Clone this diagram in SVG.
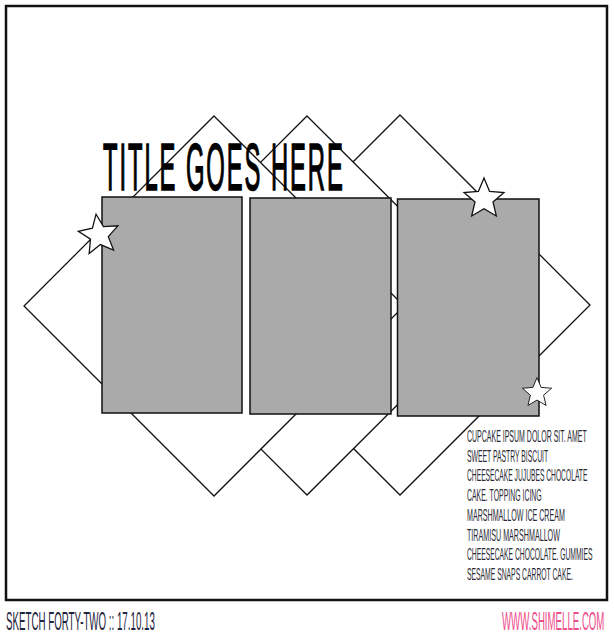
<svg xmlns="http://www.w3.org/2000/svg" width="614" height="637" viewBox="0 0 614 637">
<style>
.dia{fill:#fff;stroke:#111;stroke-width:1.3}
.photo{fill:#aaaaaa;stroke:#111;stroke-width:1.5}
.star{fill:#fff;stroke:#111;stroke-width:1.2}
.title{font-family:"Liberation Sans",Arial,sans-serif;font-size:66px;fill:#000;stroke:#000;stroke-width:1.6;letter-spacing:5.4px}
.body{font-family:"Liberation Sans",Arial,sans-serif;font-size:16.4px;fill:#2a2a35}
.foot{font-family:"Liberation Sans",Arial,sans-serif;font-size:25.5px}
</style>
<defs>
<path id="starshape" d="M0,-20 L5.29,-7.28 L19.02,-6.18 L8.56,2.78 L11.76,16.18 L0,9.2 L-11.76,16.18 L-8.56,2.78 L-19.02,-6.18 L-5.29,-7.28 Z"/>
</defs>
<rect width="614" height="637" fill="#fff"/>
<rect id="frame" x="6" y="6" width="601" height="594" fill="none" stroke="#111" stroke-width="2.5"/>
<g id="diamonds">
<polygon id="diamond3" class="dia" points="400,115 590,305 400,495 210,305"/>
<polygon id="diamond2" class="dia" points="307,116 497,305.5 307,495 117,305.5"/>
<polygon id="diamond1" class="dia" points="214,116 404,306 214,496 24,306"/>
</g>
<g id="photos">
<rect id="photo1" class="photo" x="102" y="197" width="140" height="216"/>
<rect id="photo2" class="photo" x="250" y="198" width="141" height="216"/>
<rect id="photo3" class="photo" x="397.5" y="199" width="141.5" height="217"/>
</g>
<g id="stars">
<use id="star1" href="#starshape" class="star" transform="translate(99,235) rotate(-8) scale(1.05)"/>
<use id="star2" href="#starshape" class="star" transform="translate(484,199) scale(1.05)"/>
<use id="star3" href="#starshape" class="star" transform="translate(537,393) scale(0.77)"/>
</g>
<g id="title">
<text class="title" transform="translate(103,190) scale(0.36,1)">TITLE GOES HERE</text>
</g>
<g id="journaling" class="body">
<text transform="translate(467,442) scale(0.427,1)">CUPCAKE IPSUM DOLOR SIT. AMET</text>
<text transform="translate(467,461.7) scale(0.4147,1)">SWEET PASTRY BISCUIT</text>
<text transform="translate(467,481.4) scale(0.4086,1)">CHEESECAKE JUJUBES CHOCOLATE</text>
<text transform="translate(467,501.1) scale(0.4221,1)">CAKE. TOPPING ICING</text>
<text transform="translate(467,520.8) scale(0.4336,1)">MARSHMALLOW ICE CREAM</text>
<text transform="translate(467,540.5) scale(0.4362,1)">TIRAMISU MARSHMALLOW</text>
<text transform="translate(467,560.2) scale(0.4115,1)">CHEESECAKE CHOCOLATE. GUMMIES</text>
<text transform="translate(467,580) scale(0.4139,1)">SESAME SNAPS CARROT CAKE.</text>
</g>
<g id="footer">
<text class="foot" fill="#1e2440" transform="translate(6,630) scale(0.3821,1)">SKETCH FORTY-TWO :: 17.10.13</text>
<text class="foot" fill="#ee4d8c" transform="translate(502,630) scale(0.3787,1)">WWW.SHIMELLE.COM</text>
</g>
</svg>
